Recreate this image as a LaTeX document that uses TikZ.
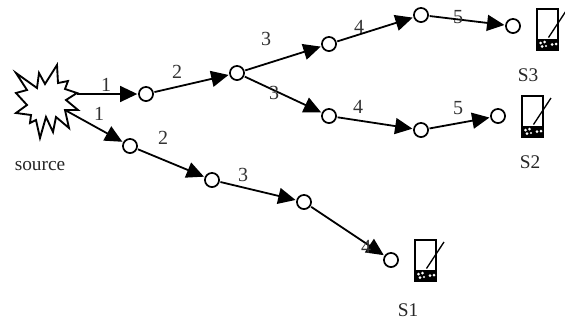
\documentclass[tikz,border=0pt]{standalone}
\usepackage{fontspec}
\setmainfont{Liberation Serif}
\usetikzlibrary{arrows.meta}
\tikzset{
  x=0.75pt,y=-0.75pt,
  hop/.style={circle,draw=black,line width=1.3pt,fill=white,minimum size=10.6pt,inner sep=0pt,outer sep=1.2pt},
  link/.style={line width=1.35pt,-{Triangle[length=13pt,width=12pt]}},
  lbl/.style={font=\fontsize{15pt}{17pt}\selectfont,text=black!80,inner sep=0pt},
  captext/.style={font=\fontsize{14.5pt}{17pt}\selectfont,text=black!85,inner sep=0pt},
  starshape/.style={draw=black,line width=1.4pt,fill=white,line join=miter},
}
\newcommand{\pda}[2]{%
  \begin{scope}[shift={(#1,#2)}]
    \draw[black,line width=1.7pt,fill=white] (0,0) rectangle (21,41);
    \fill[black] (0,30) rectangle (21,41);
    \fill[white] (3.5,34) circle (1.5) (7.5,33) circle (1.5) (5,37.5) circle (1.5) (9,37) circle (1.2) (15,35.5) circle (1.5) (19,35) circle (1.5);
    \draw[black,line width=1pt] (11.5,28.5) -- (29,2);
  \end{scope}}
\begin{document}
\begin{tikzpicture}
\useasboundingbox (0,0) rectangle (565,322);
\draw[starshape] (16,73) -- (37,88) -- (39,73) -- (45,84) -- (57,65) -- (58,83) -- (68,81) -- (65,89) -- (77,93) -- (66,100) -- (78,110) -- (65,110) -- (69,128) -- (56,117) -- (53,132) -- (46,117) -- (40,138) -- (36,120) -- (30,123) -- (31,115) -- (16,113) -- (27,105) -- (16,93) -- (27,90) -- cycle;
\coordinate (srcA) at (77,94);
\coordinate (srcB) at (65,110);
\node[hop] (n1) at (146,94) {};
\node[hop] (n2) at (237,73) {};
\node[hop] (n3) at (329,44) {};
\node[hop] (n4) at (329,116) {};
\node[hop] (n5) at (421,15) {};
\node[hop] (n6) at (421,130) {};
\node[hop] (n7) at (513,26) {};
\node[hop] (n8) at (498,116) {};
\node[hop] (m1) at (130,146) {};
\node[hop] (m2) at (212,180) {};
\node[hop] (m3) at (304,202) {};
\node[hop] (m4) at (391,260) {};
\draw[link] (srcA) -- (n1);
\draw[link] (srcB) -- (m1);
\draw[link] (n1) -- (n2);
\draw[link] (n2) -- (n3);
\draw[link] (n2) -- (n4);
\draw[link] (n3) -- (n5);
\draw[link] (n4) -- (n6);
\draw[link] (n5) -- (n7);
\draw[link] (n6) -- (n8);
\draw[link] (m1) -- (m2);
\draw[link] (m2) -- (m3);
\draw[link] (m3) -- (m4);
\node[lbl] (l1) at (106,85) {1};
\node[lbl] (l2) at (99,114) {1};
\node[lbl] (l3) at (177,72) {2};
\node[lbl] (l4) at (163,138) {2};
\node[lbl] (l5) at (266,39) {3};
\node[lbl] (l6) at (274,93) {3};
\node[lbl] (l7) at (243,175) {3};
\node[lbl] (l8) at (359,27) {4};
\node[lbl] (l9) at (358,107) {4};
\node[lbl] (l10) at (366,247) {4};
\node[lbl] (l11) at (458,17) {5};
\node[lbl] (l12) at (458,108) {5};
\node[captext] (s0) at (40,166) {source};
\node[captext] (s3) at (528,75) {S3};
\node[captext] (s2) at (530,162) {S2};
\node[captext] (s1) at (408,310) {S1};
\pda{537}{9}
\pda{522}{96}
\pda{415}{240}
\end{tikzpicture}
\end{document}
